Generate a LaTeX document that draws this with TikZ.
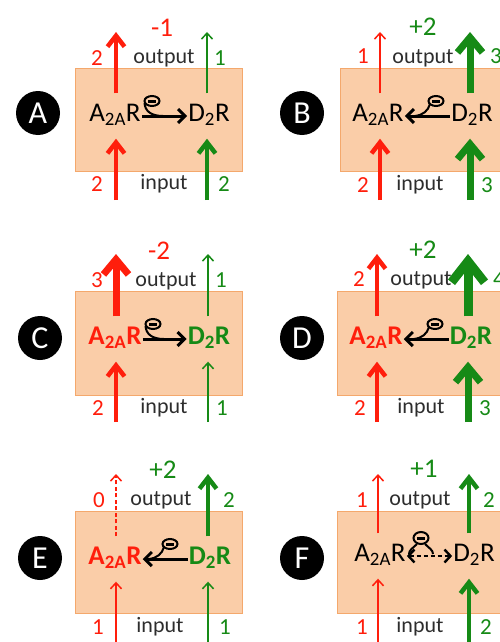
\documentclass[tikz,border=0pt]{standalone}
\usepackage{fontspec}
\setmainfont{Carlito}
\usetikzlibrary{arrows.meta}

\definecolor{upred}{RGB}{255,30,12}
\definecolor{upgreen}{RGB}{22,138,22}
\definecolor{boxfill}{RGB}{250,205,168}
\definecolor{boxline}{RGB}{244,168,108}
\definecolor{txtgray}{RGB}{45,45,45}

\tikzset{
  w1/.style={line width=1.5pt,-{Straight Barb[length=6pt,width=11pt]}},
  w2/.style={line width=4.5pt,-{Straight Barb[length=11pt,width=17pt]}},
  w3/.style={line width=7pt,-{Straight Barb[length=15pt,width=25pt]}},
  w4/.style={line width=9pt,-{Straight Barb[length=21pt,width=33pt]}},
  cellbox/.style={fill=boxfill,draw=boxline,line width=1pt},
  badge/.style={circle,fill=black,minimum size=44pt,inner sep=0pt,text=white,
    font=\fontsize{32}{34}\selectfont},
  rec/.style={font=\fontsize{27}{30}\selectfont,inner xsep=1pt,inner ysep=10pt,
    text height=18pt,text depth=7pt},
  recb/.style={rec,font=\fontsize{27}{30}\selectfont\bfseries},
  num/.style={font=\fontsize{23}{26}\selectfont,inner sep=0pt},
  net/.style={font=\fontsize{27}{30}\selectfont,inner sep=0pt},
  io/.style={font=\fontsize{22}{26}\selectfont,text=txtgray,inner sep=0pt},
  inh/.style={black,line width=3pt,-{Straight Barb[length=7pt,width=14pt]}},
  ring/.style={black,line width=2pt}
}

\begin{document}
\begin{tikzpicture}[x=1pt,y=-1pt]
  \useasboundingbox (0,0) rectangle (500,642);
  \clip (0,0) rectangle (500,642);

  % A
  \begin{scope}[name prefix=A-]
    \draw[cellbox] (75,68) rectangle (242,171);
    \node[badge] (tag) at (38,113) {A};
    \node[rec] (a) at (115,116) {A\textsubscript{2A}R};
    \node[rec] (d) at (209,116) {D\textsubscript{2}R};
    \coordinate (aout) at (116,32); \coordinate (ain) at (116,200);
    \coordinate (dout) at (207,32); \coordinate (din) at (207,200);
    \draw[upred,w2] (a.north -| aout) -- (aout);
    \draw[upgreen,w1] (d.north -| dout) -- (dout);
    \draw[upred,w2] (ain) -- (a.south -| ain);
    \draw[upgreen,w2] (din) -- (d.south -| din);
    \draw[inh] (a.east) -- (d.west);
    \draw[ring] (152,101) ellipse [x radius=7.5pt,y radius=5pt];
    \draw[line width=3pt] (148,101) -- (156,101);
    \draw[ring] (144.5,103) .. controls (145,111) and (151,116) .. (163,116);
    \node[net,upred] (sum) at (162,28) {-1};
    \node[io] (outl) at (164,58) {output};
    \node[io] (inl) at (164,184) {input};
    \node[num,upred] (n1) at (97,58) {2};
    \node[num,upgreen] (n2) at (220,58) {1};
    \node[num,upred] (n3) at (97,184) {2};
    \node[num,upgreen] (n4) at (224,184) {2};
  \end{scope}

  % B
  \begin{scope}[shift={(263,0)},name prefix=B-]
    \draw[cellbox] (77,68) rectangle (260,171);
    \node[badge] (tag) at (39,113) {B};
    \node[rec] (a) at (115,116) {A\textsubscript{2A}R};
    \node[rec] (d) at (209,116) {D\textsubscript{2}R};
    \coordinate (aout) at (117,32); \coordinate (ain) at (117,200);
    \coordinate (dout) at (207,32); \coordinate (din) at (207,200);
    \draw[upred,w1] (a.north -| aout) -- (aout);
    \draw[upgreen,w3] (d.north -| dout) -- (dout);
    \draw[upred,w2] (ain) -- (a.south -| ain);
    \draw[upgreen,w3] (din) -- (d.south -| din);
    \draw[inh] (d.west) -- (a.east);
    \draw[ring] (173,101) ellipse [x radius=7.5pt,y radius=5pt];
    \draw[line width=3pt] (169,101) -- (177,101);
    \draw[ring] (167,104) .. controls (165,111) and (160,115) .. (152,116);
    \node[net,upgreen] (sum) at (160,27) {+2};
    \node[io] (outl) at (160,58) {output};
    \node[io] (inl) at (157,185) {input};
    \node[num,upred] (n1) at (100,56) {1};
    \node[num,upgreen] (n2) at (233,56) {3};
    \node[num,upred] (n3) at (100,185) {2};
    \node[num,upgreen] (n4) at (224,185) {3};
  \end{scope}

  % C
  \begin{scope}[shift={(0,222)},name prefix=C-]
    \draw[cellbox] (75,69) rectangle (242,173);
    \node[badge] (tag) at (40,116) {C};
    \node[recb,upred] (a) at (115,117) {A\textsubscript{2A}R};
    \node[recb,upgreen] (d) at (209,117) {D\textsubscript{2}R};
    \coordinate (aout) at (116,32); \coordinate (ain) at (116,200);
    \coordinate (dout) at (208,32); \coordinate (din) at (208,200);
    \draw[upred,w3] (a.north -| aout) -- (aout);
    \draw[upgreen,w1] (d.north -| dout) -- (dout);
    \draw[upred,w2] (ain) -- (a.south -| ain);
    \draw[upgreen,w1] (din) -- (d.south -| din);
    \draw[inh] (a.east) -- (d.west);
    \draw[ring] (153,102) ellipse [x radius=7.5pt,y radius=5pt];
    \draw[line width=3pt] (149,102) -- (157,102);
    \draw[ring] (145.5,104) .. controls (146,112) and (152,117) .. (164,117);
    \node[net,upred] (sum) at (159,29) {-2};
    \node[io] (outl) at (166,59) {output};
    \node[io] (inl) at (164,186) {input};
    \node[num,upred] (n1) at (97,58) {3};
    \node[num,upgreen] (n2) at (221,58) {1};
    \node[num,upred] (n3) at (98,186) {2};
    \node[num,upgreen] (n4) at (222,186) {1};
  \end{scope}

  % D
  \begin{scope}[shift={(263,222)},name prefix=D-]
    \draw[cellbox] (74,69) rectangle (260,173);
    \node[badge] (tag) at (39,116) {D};
    \node[recb,upred] (a) at (113,117) {A\textsubscript{2A}R};
    \node[recb,upgreen] (d) at (208,117) {D\textsubscript{2}R};
    \coordinate (aout) at (114,32); \coordinate (ain) at (114,200);
    \coordinate (dout) at (205,32); \coordinate (din) at (205,200);
    \draw[upred,w2] (a.north -| aout) -- (aout);
    \draw[upgreen,w4] (d.north -| dout) -- (dout);
    \draw[upred,w2] (ain) -- (a.south -| ain);
    \draw[upgreen,w3] (din) -- (d.south -| din);
    \draw[inh] (d.west) -- (a.east);
    \draw[ring] (172,102) ellipse [x radius=7.5pt,y radius=5pt];
    \draw[line width=3pt] (168,102) -- (176,102);
    \draw[ring] (166,105) .. controls (164,112) and (159,116) .. (151,117);
    \node[net,upgreen] (sum) at (160,28) {+2};
    \node[io] (outl) at (158,58) {output};
    \node[io] (inl) at (158,186) {input};
    \node[num,upred] (n1) at (96,57) {2};
    \node[num,upgreen] (n2) at (236,57) {4};
    \node[num,upred] (n3) at (97,186) {2};
    \node[num,upgreen] (n4) at (222,186) {3};
  \end{scope}

  % E
  \begin{scope}[shift={(0,442)},name prefix=E-]
    \draw[cellbox] (75,69) rectangle (242,171);
    \node[badge] (tag) at (40,116) {E};
    \node[recb,upred] (a) at (115,117) {A\textsubscript{2A}R};
    \node[recb,upgreen] (d) at (210,117) {D\textsubscript{2}R};
    \coordinate (aout) at (116,32); \coordinate (ain) at (116,200);
    \coordinate (dout) at (208,32); \coordinate (din) at (208,200);
    \draw[upred,w1,dash pattern=on 4pt off 2.5pt] (a.north -| aout) -- (aout);
    \draw[upgreen,w2] (d.north -| dout) -- (dout);
    \draw[upred,w1] (ain) -- (a.south -| ain);
    \draw[upgreen,w1] (din) -- (d.south -| din);
    \draw[inh] (d.west) -- (a.east);
    \draw[ring] (170,102) ellipse [x radius=7.5pt,y radius=5pt];
    \draw[line width=3pt] (166,102) -- (174,102);
    \draw[ring] (164,105) .. controls (162,112) and (157,116) .. (149,117);
    \node[net,upgreen] (sum) at (163,28) {+2};
    \node[io] (outl) at (161,58) {output};
    \node[io] (inl) at (160,185) {input};
    \node[num,upred] (n1) at (99,58) {0};
    \node[num,upgreen] (n2) at (229,58) {2};
    \node[num,upred] (n3) at (98,185) {1};
    \node[num,upgreen] (n4) at (225,185) {1};
  \end{scope}

  % F
  \begin{scope}[shift={(263,442)},name prefix=F-]
    \draw[cellbox] (74,69) rectangle (260,171);
    \node[badge] (tag) at (39,116) {F};
    \node[rec] (a) at (117,114) {A\textsubscript{2A}R};
    \node[rec] (d) at (211,114) {D\textsubscript{2}R};
    \coordinate (aout) at (115,32); \coordinate (ain) at (115,200);
    \coordinate (dout) at (206,32); \coordinate (din) at (206,200);
    \draw[upred,w1] (a.north -| aout) -- (aout);
    \draw[upgreen,w2] (d.north -| dout) -- (dout);
    \draw[upred,w1] (ain) -- (a.south -| ain);
    \draw[upgreen,w2] (din) -- (d.south -| din);
    \draw[black,line width=2.4pt,dash pattern=on 4pt off 3pt,
      {Straight Barb[length=6pt,width=13pt]}-{Straight Barb[length=6pt,width=13pt]}] (a.east) -- (d.west);
    \draw[ring] (158,96) ellipse [x radius=7.5pt,y radius=6pt];
    \draw[line width=3pt] (154,96) -- (162,96);
    \draw[ring] (154,102) .. controls (150,106) and (146,108) .. (146,112);
    \draw[ring] (162,102) .. controls (166,106) and (170,108) .. (170,112);
    \node[net,upgreen] (sum) at (161,27) {+1};
    \node[io] (outl) at (157,58) {output};
    \node[io] (inl) at (157,185) {input};
    \node[num,upred] (n1) at (99,58) {1};
    \node[num,upgreen] (n2) at (226,58) {2};
    \node[num,upred] (n3) at (99,185) {1};
    \node[num,upgreen] (n4) at (223,185) {2};
  \end{scope}
\end{tikzpicture}
\end{document}
